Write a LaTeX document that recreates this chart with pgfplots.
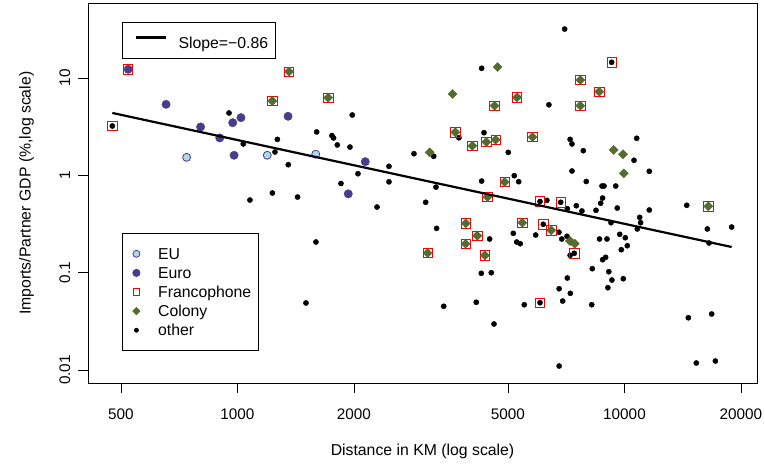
\documentclass[border=0pt]{standalone}
\usepackage{fontspec}
\setmainfont{Liberation Sans}
\usepackage{pgfplots}
\pgfplotsset{compat=1.18}
\definecolor{euroc}{RGB}{72,61,139}
\definecolor{euc}{RGB}{173,216,230}
\definecolor{colc}{RGB}{85,107,47}
\newcommand\F{\fontsize{15.8bp}{19bp}\selectfont}
\newcommand\T{\fontsize{15.3bp}{18bp}\selectfont}
\pgfplotsset{mylegmark/.style={legend image code/.code={\path[draw=none,fill=none] (-7bp,-5.65bp) rectangle (7bp,5.65bp); \draw[##1] plot coordinates {(0bp,0bp)};}}}
\begin{document}
\begin{tikzpicture}[font=\F]
\useasboundingbox (-88bp,-83bp) rectangle (677bp,383bp);
\begin{axis}[at={(0bp,0bp)}, anchor=south west, scale only axis,
  width=669bp, height=379.5bp,
  xmode=log, ymode=log,
  xmin=411, xmax=22000, ymin=0.00735, ymax=58.2,
  axis line style={line width=0.9bp},
  xtick={500,1000,2000,5000,10000,20000},
  xticklabels={500,1000,2000,5000,10000,20000},
  ytick={0.01,0.1,1,10},
  yticklabels={0.01,0.1,1,10},
  xminorticks=false, yminorticks=false,
  tick align=outside, major tick length=10bp,
  xtick pos=bottom, ytick pos=left,
  tick style={black, line width=0.9bp},
  xticklabel style={font=\T, anchor=base, yshift=-26.5bp},
  yticklabel style={font=\T, xshift=-8bp, rotate=90, anchor=base},
  xlabel={Distance in KM (log scale)},
  ylabel={Imports/Partner GDP (\%,log scale)},
  xlabel style={font=\F, at={([yshift=-72bp]axis description cs:0.5,0)}, anchor=base},
  ylabel style={font=\F, at={([xshift=-57.5bp]axis description cs:0,0.5)}, anchor=base},
  legend style={at={(axis description cs:0.0504,0.3945)}, anchor=north west,
    draw=black, line width=0.8bp, fill=white, inner xsep=7.3bp, inner ysep=14.5bp,
    row sep=7.8bp, column sep=14.7bp, font=\F,
    nodes={inner sep=0pt, text height=11.3bp, text depth=0pt}},
  legend cell align=left,
]
% other
\addplot[only marks, mark=*, mark size=2.6bp, mark options={fill=black, draw=black}, forget plot] table {
x y
951 4.37
475 3.21
1602 2.79
1268 2.34
1035 2.10
1250 1.735
1353 1.285
1077 0.557
1231 0.658
1430 0.598
4275 12.57
6378 5.30
1980 4.16
1754 2.56
1771 2.42
1811 2.05
1953 1.95
3735 2.43
4335 2.74
5009 1.72
3214 1.567
2858 1.667
2463 1.237
2048 1.038
2463 0.857
1851 0.824
3258 0.756
4275 0.872
5191 0.991
5329 0.860
6049 0.538
7006 31.8
9263 14.49
7237 2.34
7317 2.10
7827 1.79
10753 2.40
10582 1.426
11590 1.099
7317 1.107
7967 0.864
8747 0.776
8852 0.776
9491 0.776
8778 0.584
6302 0.553
6842 0.528
8679 0.516
7508 0.487
7118 0.454
7764 0.430
8440 0.437
9578 0.461
11590 0.440
14480 0.492
10946 0.370
11006 0.326
10792 0.281
9229 0.326
16370 0.281
18920 0.294
16540 0.2016
6169 0.314
5896 0.2435
6773 0.260
6886 0.2216
7103 0.2362
7418 0.1580
7237 0.1507
8619 0.2216
9010 0.2216
9719 0.2476
10048 0.2285
10169 0.1891
9812 0.1720
8778 0.1358
8940 0.1437
8257 0.1098
9110 0.1022
9278 0.0840
9930 0.0866
7118 0.0881
6778 0.0684
7246 0.0613
9058 0.0700
6049 0.0491
6923 0.0511
8228 0.0468
14620 0.0344
16800 0.0376
6778 0.01098
15330 0.01179
17170 0.01236
2294 0.472
3064 0.528
3270 0.285
1595 0.2064
4484 0.2216
5161 0.2535
5267 0.2064
5378 0.1983
4266 0.0984
4527 0.0998
1503 0.0488
3411 0.0451
4140 0.0496
5510 0.0468
4600 0.0297
};
% EU
\addplot[only marks, mark=*, mark size=4bp, mark options={fill=euc, draw=euroc, line width=0.8bp}, forget plot] table {
x y
739 1.530
1194 1.606
1593 1.648
};
% Euro
\addplot[only marks, mark=*, mark size=4.2bp, mark options={fill=euroc, draw=euroc}, forget plot] table {
x y
522 12.28
654 5.36
1021 3.91
972 3.47
1351 4.04
803 3.14
900 2.42
980 1.606
2139 1.380
1933 0.645
};
% Francophone
\addplot[only marks, mark=square, mark size=4.7bp, mark options={draw=red, line width=0.8bp}, forget plot] table {
x y
522 12.28
475 3.21
1359 11.60
1230 5.80
1716 6.27
4615 5.19
5277 6.33
3654 2.77
4043 2.01
4394 2.20
4647 2.32
5785 2.47
4903 0.853
4426 0.598
6049 0.538
9263 14.49
7688 9.53
8607 7.23
7688 5.19
6842 0.528
16470 0.480
6169 0.314
6470 0.272
7418 0.1580
6049 0.0491
3890 0.321
4165 0.2395
3887 0.1983
4360 0.1507
3101 0.1591
5445 0.326
};
% Colony
\addplot[only marks, mark=square*, mark size=3.2bp, mark options={rotate=45, fill=colc, draw=colc}, forget plot] table {
x y
1359 11.60
1230 5.80
1716 6.27
4615 5.19
5277 6.33
3654 2.77
4043 2.01
4394 2.20
4647 2.32
5785 2.47
4903 0.853
4426 0.598
7688 9.53
8607 7.23
7688 5.19
16470 0.480
6470 0.272
3890 0.321
4165 0.2395
3887 0.1983
4360 0.1507
3101 0.1591
5445 0.326
3598 6.84
4702 12.96
3138 1.72
9378 1.82
9913 1.645
9957 1.048
7231 0.2113
7438 0.1983
};
\addlegendimage{only marks, mark=*, mark size=3.5bp, mark options={fill=euc, draw=euroc, line width=0.8bp}, mylegmark}
\addlegendentry{EU}
\addlegendimage{only marks, mark=*, mark size=3.6bp, mark options={fill=euroc, draw=euroc}, mylegmark}
\addlegendentry{Euro}
\addlegendimage{only marks, mark=square, mark size=3.3bp, mark options={draw=red, line width=0.8bp}, mylegmark}
\addlegendentry{Francophone}
\addlegendimage{only marks, mark=square*, mark size=2.5bp, mark options={rotate=45, fill=colc, draw=colc}, mylegmark}
\addlegendentry{Colony}
\addlegendimage{only marks, mark=*, mark size=2bp, mark options={fill=black, draw=black}, mylegmark}
\addlegendentry{other}
\end{axis}
\begin{axis}[at={(0bp,0bp)}, anchor=south west, scale only axis,
  width=669bp, height=379.5bp,
  xmode=log, ymode=log,
  xmin=411, xmax=22000, ymin=0.00735, ymax=58.2,
  hide axis,
  legend style={at={(axis description cs:0.0504,0.952)}, anchor=north west,
    draw=black, line width=0.8bp, fill=white, inner xsep=7.3bp, inner ysep=9.65bp,
    column sep=11.7bp, font=\F,
    nodes={inner sep=0pt, text height=11.3bp, text depth=0pt}},
  legend image code/.code={\path[draw=none,fill=none] (0bp,0bp) rectangle (36.3bp,11.3bp); \draw[#1] (6.7bp,5.65bp) -- (36.3bp,5.65bp);},
]
\addplot[black, line width=2.2bp] coordinates {(475,4.37) (18920,0.1834)};
\addlegendentry{Slope=−0.86}
\end{axis}
\end{tikzpicture}
\end{document}
